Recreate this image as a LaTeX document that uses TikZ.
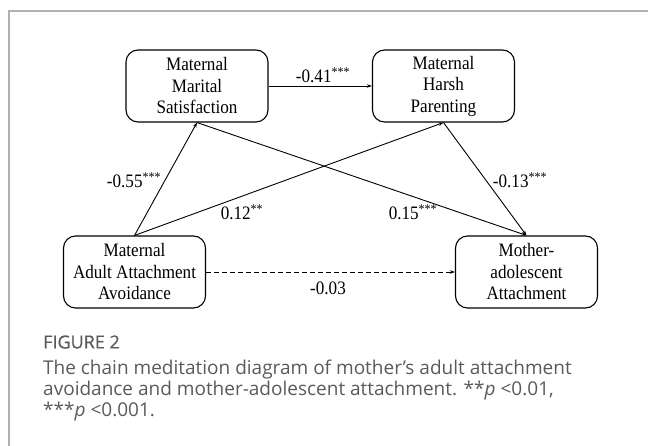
\documentclass[tikz,border=0pt]{standalone}
\usepackage{fontspec}
\setmainfont{Liberation Serif}[FakeStretch=0.9]
\newfontfamily\capfont{Open Sans}
\usetikzlibrary{arrows.meta}
\definecolor{framegray}{HTML}{B0B0B0}
\definecolor{capgray}{HTML}{5A5A5A}
\begin{document}
\begin{tikzpicture}[x=1pt,y=1pt,
  varbox/.style={draw=black,line width=1.1pt,rounded corners=12pt,minimum width=142pt,minimum height=72pt,align=center,inner sep=0pt,font=\fontsize{19}{21.5}\selectfont},
  path/.style={line width=0.9pt,-{Stealth[length=5pt,width=3.5pt]}},
  coef/.style={font=\fontsize{19}{20}\selectfont,inner sep=0pt},
  captext/.style={anchor=west,inner sep=0pt,text=capgray,font=\capfont\fontsize{19}{21}\selectfont}]
\useasboundingbox (0,0) rectangle (648,-446);
\draw[framegray,line width=1.4pt] (648,-11) -- (9,-11) -- (9,-446);
\node[varbox] (mms) at (197,-86) {Maternal\\Marital\\Satisfaction};
\node[varbox] (mhp) at (443.5,-86) {Maternal\\Harsh\\Parenting};
\node[varbox] (maaa) at (134.5,-272) {Maternal\\Adult Attachment\\Avoidance};
\node[varbox] (maa) at (526.5,-272) {Mother-\\adolescent\\Attachment};
\draw[path] (mms.east) -- (mhp.west);
\draw[path] (maaa.north) -- (mms.south);
\draw[path] (maaa.north) -- (mhp.south);
\draw[path] (mms.south) -- (maa.north);
\draw[path] (mhp.south) -- (maa.north);
\draw[path,dashed,dash pattern=on 5pt off 3pt] (maaa.east) -- (maa.west);
\node[coef] (c1) at (323,-75) {-0.41\textsuperscript{***}};
\node[coef] (c2) at (134,-180) {-0.55\textsuperscript{***}};
\node[coef] (c3) at (242,-212) {0.12\textsuperscript{**}};
\node[coef] (c4) at (413,-212) {0.15\textsuperscript{***}};
\node[coef] (c5) at (520,-180) {-0.13\textsuperscript{***}};
\node[coef] (c6) at (328,-288) {-0.03};
\node[captext,font=\capfont\fontsize{18}{20}\selectfont\addfontfeatures{FakeBold=0.6}] (fig) at (43,-342) {FIGURE 2};
\node[captext] (cap1) at (43,-370) {The chain meditation diagram of mother’s adult attachment};
\node[captext] (cap2) at (43,-391) {avoidance and mother-adolescent attachment. **\textit{p} <0.01,};
\node[captext] (cap3) at (43,-412) {***\textit{p} <0.001.};
\end{tikzpicture}
\end{document}
